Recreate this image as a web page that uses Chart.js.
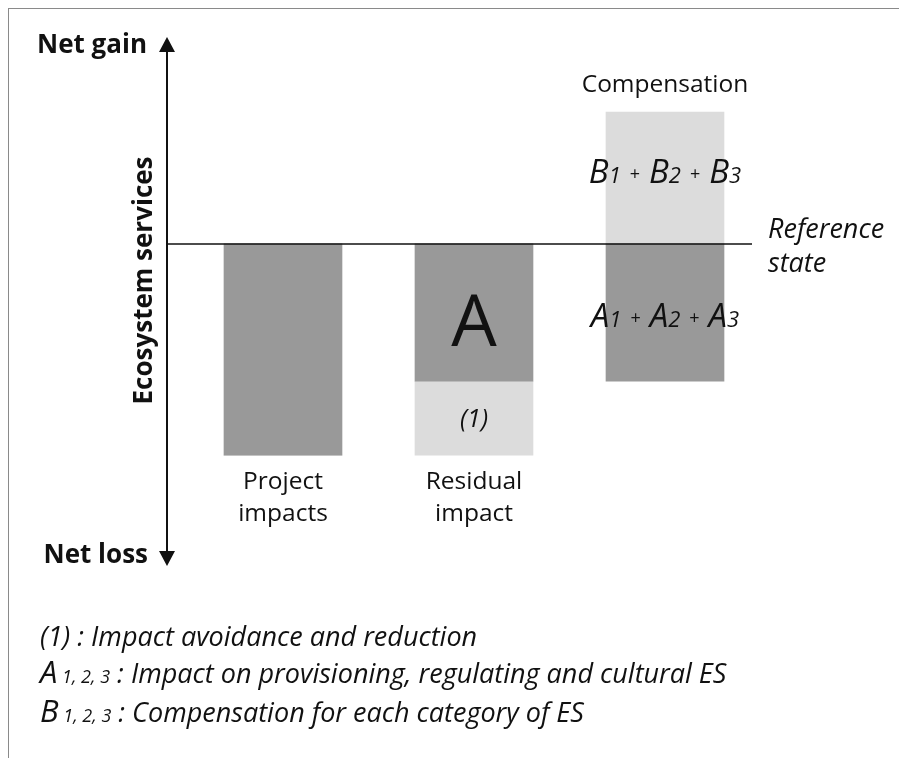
<!DOCTYPE html>
<html>
<head>
<meta charset="utf-8">
<script src="https://cdn.jsdelivr.net/npm/chart.js@4.4.1/dist/chart.umd.min.js"></script>
<style>
  html, body { margin: 0; padding: 0; background: #fff; }
  #wrap { position: relative; width: 899px; height: 758px; overflow: hidden; }
  #frame { position: absolute; left: 8px; top: 8px; right: -4px; bottom: -4px;
           border-top: 1.5px solid #8a8a8a; border-left: 1.5px solid #8a8a8a; }
  canvas { position: absolute; left: 0; top: 0; }
</style>
</head>
<body>
<div id="wrap">
  <div id="frame"></div>
  <canvas id="chart" width="899" height="758"></canvas>
</div>
<script>
// ---- data ----
const categories = [["Project", "impacts"], ["Residual", "impact"], ["Compensation"]];
const categoryPositions = [1, 2, 3];
const lossValues = [-10, -6.5, -6.5];        // dark grey: impacts on ES
const offsetValues = [0, -3.5, 6.25];        // light grey: (1) avoidance/reduction, B compensation
const darkSegmentLabels = [null, "A", "A"];
const lightSegmentLabels = [null, "(1)", "B"];
const esIndices = ["1", "2", "3"];
const yAxisLabels = { top: "Net gain", bottom: "Net loss", title: "Ecosystem services" };
const referenceLabel = ["Reference", "state"];
const footnotes = [
  { key: "(1)", sub: "", text: " : Impact avoidance and reduction" },
  { key: "A", sub: " 1, 2, 3", text: " : Impact on provisioning, regulating and cultural ES" },
  { key: "B", sub: " 1, 2, 3", text: " : Compensation for each category of ES" }
];

const DARK = "#999999";
const LIGHT = "#dcdcdc";
const INK = "#111111";
const FAM = "'Open Sans', 'Noto Sans', sans-serif";

function drawRich(ctx, pieces, x, y, align) {
  let total = 0;
  pieces.forEach(p => {
    ctx.font = p.font;
    p.w = ctx.measureText(p.text).width + 2 * (p.gap || 0);
    total += p.w;
  });
  let cx = align === "center" ? x - total / 2 : x;
  ctx.textAlign = "left";
  ctx.textBaseline = "alphabetic";
  pieces.forEach(p => {
    ctx.font = p.font;
    ctx.fillText(p.text, cx + (p.gap || 0), y + (p.dy || 0));
    cx += p.w;
  });
}

function sumPieces(letter) {
  const out = [];
  esIndices.forEach((s, i) => {
    out.push({ text: letter, font: "italic 33px " + FAM });
    out.push({ text: s, font: "italic 22px " + FAM });
    if (i < esIndices.length - 1) out.push({ text: "+", font: "18px " + FAM, dy: -3, gap: 9 });
  });
  return out;
}

const annotations = {
  id: "annotations",
  afterDatasetsDraw(chart) {
    const { ctx, chartArea: a, scales: { x, y } } = chart;
    const y0 = y.getPixelForValue(0);
    ctx.save();
    ctx.fillStyle = INK;
    ctx.strokeStyle = INK;

    // vertical axis with arrows
    ctx.lineWidth = 2;
    ctx.beginPath();
    ctx.moveTo(a.left, a.top + 8);
    ctx.lineTo(a.left, a.bottom - 8);
    ctx.stroke();
    ctx.beginPath();
    ctx.moveTo(a.left, a.top); ctx.lineTo(a.left - 8, a.top + 15); ctx.lineTo(a.left + 8, a.top + 15); ctx.closePath();
    ctx.fill();
    ctx.beginPath();
    ctx.moveTo(a.left, a.bottom); ctx.lineTo(a.left - 8, a.bottom - 15); ctx.lineTo(a.left + 8, a.bottom - 15); ctx.closePath();
    ctx.fill();

    // reference line
    ctx.lineWidth = 1.6;
    ctx.beginPath();
    ctx.moveTo(a.left, y0);
    ctx.lineTo(a.right, y0);
    ctx.stroke();

    // axis texts
    ctx.font = "bold 26px " + FAM;
    ctx.textAlign = "right";
    ctx.textBaseline = "alphabetic";
    ctx.fillText(yAxisLabels.top, a.left - 20, a.top + 16);
    ctx.fillText(yAxisLabels.bottom, a.left - 19, a.bottom - 3);
    ctx.save();
    ctx.translate(a.left - 15, (a.top + a.bottom) / 2 - 21);
    ctx.rotate(-Math.PI / 2);
    ctx.font = "bold 26px " + FAM;
    ctx.textAlign = "center";
    ctx.fillText(yAxisLabels.title, 0, 0);
    ctx.restore();

    // reference state label
    ctx.font = "italic 27px " + FAM;
    ctx.textAlign = "left";
    ctx.fillText(referenceLabel[0], a.right + 16, y0 - 6);
    ctx.fillText(referenceLabel[1], a.right + 16, y0 + 28);

    // category labels
    categories.forEach((lab, i) => {
      const cx = x.getPixelForValue(categoryPositions[i]);
      const total = lossValues[i] + Math.min(0, offsetValues[i]);
      const top = Math.max(0, offsetValues[i]);
      ctx.font = "24.5px " + FAM;
      ctx.textAlign = "center";
      if (top > 0) {
        ctx.fillText(lab.join(" "), cx, y.getPixelForValue(top) - 20);
      } else {
        const yb = y.getPixelForValue(total);
        lab.forEach((line, k) => ctx.fillText(line, cx, yb + 34 + k * 32));
      }
    });

    // segment labels
    categories.forEach((lab, i) => {
      const cx = x.getPixelForValue(categoryPositions[i]);
      const dl = darkSegmentLabels[i];
      const ll = lightSegmentLabels[i];
      const darkMid = y.getPixelForValue(lossValues[i] / 2);
      if (dl && offsetValues[i] < 0) {
        ctx.font = "72px " + FAM;
        ctx.textAlign = "center";
        ctx.fillText(dl, cx, darkMid + 33);
      } else if (dl) {
        drawRich(ctx, sumPieces(dl), cx, darkMid + 14, "center");
      }
      if (ll && offsetValues[i] < 0) {
        const mid = y.getPixelForValue(lossValues[i] + offsetValues[i] / 2);
        ctx.font = "italic 25px " + FAM;
        ctx.textAlign = "center";
        ctx.fillText(ll, cx, mid + 9);
      } else if (ll) {
        const mid = y.getPixelForValue(offsetValues[i] / 2);
        drawRich(ctx, sumPieces(ll), cx, mid + 5, "center");
      }
    });

    // footnotes
    const fx = 40;
    const baselines = [646, 683, 722];
    footnotes.forEach((f, i) => {
      const pieces = [];
      if (f.sub) {
        pieces.push({ text: f.key, font: "italic 31px " + FAM });
        pieces.push({ text: f.sub, font: "italic 18px " + FAM });
      } else {
        pieces.push({ text: f.key, font: "italic 27px " + FAM });
      }
      pieces.push({ text: f.text, font: "italic 27px " + FAM });
      drawRich(ctx, pieces, fx, baselines[i], "left");
    });

    ctx.restore();
  }
};

new Chart(document.getElementById("chart"), {
  type: "bar",
  data: {
    datasets: [
      {
        label: "Impact",
        data: categoryPositions.map((p, i) => ({ x: p, y: lossValues[i] })),
        backgroundColor: DARK,
        borderWidth: 0,
        barThickness: 118
      },
      {
        label: "Avoidance / compensation",
        data: categoryPositions.map((p, i) => ({ x: p, y: offsetValues[i] })),
        backgroundColor: LIGHT,
        borderWidth: 0,
        barThickness: 118
      }
    ]
  },
  options: {
    responsive: false,
    animation: false,
    layout: { padding: { left: 167, right: 147, top: 37, bottom: 192 } },
    plugins: { legend: { display: false }, tooltip: { enabled: false } },
    scales: {
      x: { type: "linear", stacked: true, offset: false, display: false, min: 0.3927, max: 3.4555 },
      y: { stacked: true, display: false, min: -15.25, max: 9.8 }
    }
  },
  plugins: [annotations]
});
</script>
</body>
</html>
